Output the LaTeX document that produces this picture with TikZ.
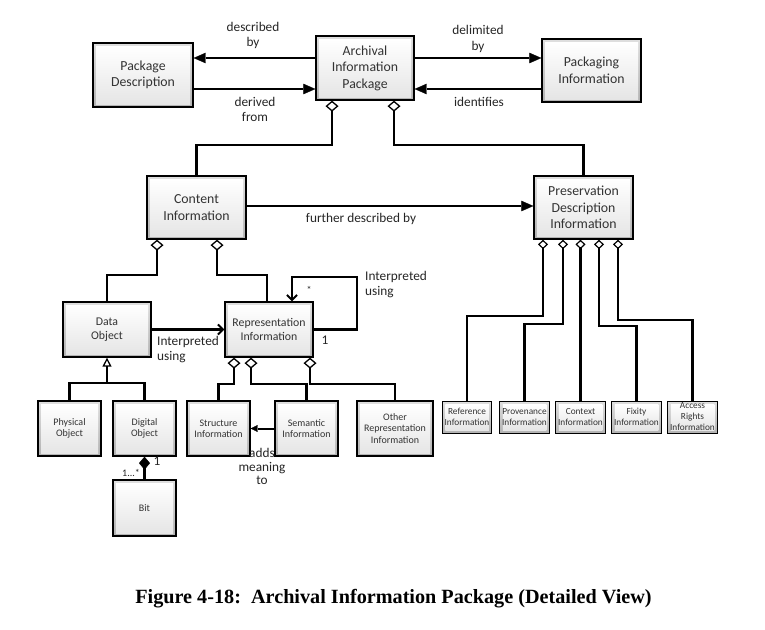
\documentclass[tikz,border=0pt]{standalone}
\usepackage{fontspec}
\setmainfont{Carlito}
\newfontfamily\capfont{Liberation Serif}
\usetikzlibrary{arrows.meta,shapes.geometric}
\tikzset{
  box/.style={draw=black, line width=1.3pt, text=black!80, align=center, inner sep=0pt,
    path picture={
      \shade[top color=gray!25, bottom color=gray!60]
        (path picture bounding box.south west) rectangle (path picture bounding box.north east);
      \shade[top color=white, bottom color=gray!20]
        ([shift={(3pt,-3pt)}]path picture bounding box.north west) rectangle
        ([shift={(-3pt,3pt)}]path picture bounding box.south east);
    }},
  bigbox/.style={box, font=\fontsize{13.8}{16.5}\selectfont},
  smallbox/.style={box, font=\fontsize{10}{11}\selectfont, minimum width=63pt, minimum height=55pt},
  tinybox/.style={box, line width=1pt, font=\fontsize{9.3}{11.5}\selectfont, text width=49.5pt, minimum height=32pt},
  lbl/.style={align=center, inner sep=0pt, text=black!85, font=\fontsize{13.3}{15}\selectfont},
  conn/.style={line width=2.4pt},
  arr/.style={conn, -{Triangle[length=12pt,width=10.5pt,line width=0.4pt]}},
  barb/.style={conn, -{Straight Barb[length=5pt,width=10pt,line width=2pt]}},
  agg/.style={conn, {Diamond[open,length=11pt,width=13pt,line width=1.3pt]}-},
  aggs/.style={conn, {Diamond[open,length=9.5pt,width=10pt,line width=1.2pt]}-},
  comp/.style={conn, {Diamond[length=13pt,width=11pt,line width=0.4pt]}-},
  gen/.style={conn, -{Triangle[open,length=9pt,width=9pt,line width=1.3pt]}},
  smallarr/.style={line width=2pt, -{Triangle[length=7pt,width=7pt,line width=0.4pt]}},
}
\begin{document}
\begin{tikzpicture}[x=1pt,y=-1pt]
\useasboundingbox (0,0) rectangle (765,629);
\fill[white] (0,0) rectangle (765,629);

% main boxes
\node[bigbox, minimum width=100pt, minimum height=64pt] (pd) at (143,75) {Package\\Description};
\node[bigbox, minimum width=98pt, minimum height=64pt] (aip) at (365,68) {Archival\\Information\\Package};
\node[bigbox, minimum width=99pt, minimum height=63pt] (pki) at (591.5,70.5) {Packaging\\Information};
\node[bigbox, minimum width=99pt, minimum height=63pt] (ci) at (196.5,207.5) {Content\\Information};
\node[bigbox, minimum width=99pt, minimum height=63pt] (pdi) at (583.5,207.5) {Preservation\\Description\\Information};
\node[bigbox, font=\fontsize{11.8}{14}\selectfont, minimum width=88pt, minimum height=55pt] (do) at (107,329.5) {Data\\Object};
\node[bigbox, font=\fontsize{11.8}{14}\selectfont, minimum width=88pt, minimum height=55pt] (ri) at (269,329.5) {Representation\\Information};

% small boxes
\node[smallbox] (po) at (69.5,428.5) {Physical\\Object};
\node[smallbox] (dobj) at (144.5,428.5) {Digital\\Object};
\node[smallbox] (si) at (218.5,428.5) {Structure\\Information};
\node[smallbox] (semi) at (306.5,428.5) {Semantic\\Information};
\node[smallbox, minimum width=76pt, font=\fontsize{10}{11.7}\selectfont] (ori) at (395,428.5) {Other\\Representation\\Information};
\node[smallbox, minimum height=56pt] (bit) at (144.5,508) {Bit};

% PDI parts
\node[tinybox] (ref) at (467,417) {Reference\\Information};
\node[tinybox] (prov) at (524.5,417) {Provenance\\Information};
\node[tinybox] (ctx) at (580.5,417) {Context\\Information};
\node[tinybox] (fix) at (636.5,417) {Fixity\\Information};
\node[tinybox, font=\fontsize{9.3}{11}\selectfont] (acc) at (692.5,417) {Access\\Rights\\Information};

% top associations
\draw[arr] (aip.west |- 0,58) -- (pd.east |- 0,58);
\draw[arr] (pd.east |- 0,89) -- (aip.west |- 0,89);
\draw[arr] (aip.east |- 0,58) -- (pki.west |- 0,58);
\draw[arr] (pki.west |- 0,89) -- (aip.east |- 0,89);

% AIP aggregations
\draw[agg] (aip.south -| 332,0) -- (332,145) -| (ci.north);
\draw[agg] (aip.south -| 394,0) -- (394,145) -| (pdi.north);

% further described by
\draw[arr] (ci.east |- 0,206) -- (pdi.west |- 0,206);

% content information aggregations
\draw[agg] (ci.south -| 157,0) -- (157,275) -| (do.north);
\draw[agg] (ci.south -| 217,0) -- (217,275) -| (ri.north -| 267,0);

% interpreted using
\draw[barb] (do.east) -- (ri.west);
\draw[barb] (ri.east) -- (357,329.5) -- (357,277) -- (292,277) -- (ri.north -| 292,0);

% representation information aggregations
\draw[agg] (ri.south -| 234,0) -- (234,384) -| (si.north);
\draw[agg] (ri.south -| 251,0) -- (251,384) -| (semi.north);
\draw[agg] (ri.south -| 310,0) -- (310,384) -| (ori.north);
\draw[smallarr] (semi.west) -- (si.east);

% generalization
\coordinate (gj) at (107,383);
\draw[conn] (po.north) |- (gj) -| (dobj.north);
\draw[gen] (gj) -- (do.south);

% composition
\draw[comp] (dobj.south) -- (bit.north);

% PDI aggregations
\draw[aggs] (pdi.south -| 543,0) -- (543,316) -| (ref.north);
\draw[aggs] (pdi.south -| 563,0) -- (563,324) -| (prov.north);
\draw[aggs] (pdi.south -| ctx.north) -- (ctx.north);
\draw[aggs] (pdi.south -| 599,0) -- (599,326) -| (fix.north);
\draw[aggs] (pdi.south -| 618,0) -- (618,320) -| (acc.north);

% labels
\node[lbl] (l1) at (253,35.5) {described\\by};
\node[lbl] (l2) at (255,109.5) {derived\\from};
\node[lbl, font=\fontsize{13.3}{16}\selectfont] (l3) at (478,39) {delimited\\by};
\node[lbl] (l4) at (479,102) {identifies};
\node[lbl] (l5) at (361,219) {further described by};
\node[lbl, anchor=west, align=left] (l6) at (157,350) {Interpreted\\using};
\node[lbl, anchor=west, align=left] (l7) at (365,284.5) {Interpreted\\using};
\node[lbl, font=\fontsize{13.3}{13.5}\selectfont] (l8) at (262,466.5) {adds\\meaning\\to};
\node[lbl, font=\fontsize{10}{10}\selectfont] (l9) at (309,290) {*};
\node[lbl] (l10) at (325,340) {1};
\node[lbl] (l11) at (157,461) {1};
\node[lbl, font=\fontsize{10}{10}\selectfont] (l12) at (131,473) {1...*};

% caption
\node[anchor=base, inner sep=0pt, font=\capfont\bfseries\fontsize{20.2}{24}\selectfont] (cap) at (393.5,603)
  {Figure 4-18:\ \ Archival Information Package (Detailed View)};
\end{tikzpicture}
\end{document}
